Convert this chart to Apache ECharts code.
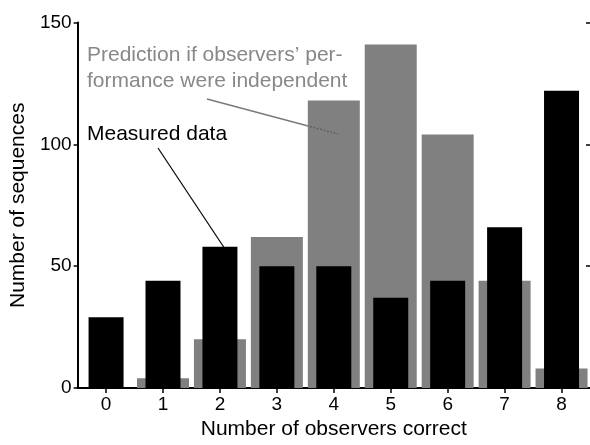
<!DOCTYPE html>
<html>
<head>
<meta charset="utf-8">
<script src="https://cdn.jsdelivr.net/npm/echarts@6/dist/echarts.min.js"></script>
<style>
html,body{margin:0;padding:0;background:#fff;}
#chart{width:590px;height:445px;}
</style>
</head>
<body>
<div id="chart"></div>
<script>
var categories = ['0','1','2','3','4','5','6','7','8'];
var measured = [29, 44, 58, 50, 50, 37, 44, 66, 122];
var predicted = [0, 4, 20, 62, 118, 141, 104, 44, 8];
var yTicks = [0, 50, 100, 150];

var FONT = 'Liberation Sans, Arial, Helvetica, sans-serif';
var chart = echarts.init(document.getElementById('chart'), null, {renderer: 'canvas'});

var option = {
  animation: false,
  backgroundColor: '#fff',
  grid: {left: 77.5, top: 22.5, width: 516, height: 370, containLabel: false},
  xAxis: [
    {
      type: 'category', data: categories, position: 'bottom',
      name: 'Number of observers correct', nameLocation: 'middle', nameGap: 31,
      nameTextStyle: {fontFamily: FONT, fontSize: 21, color: '#000'},
      axisLine: {show: true, lineStyle: {color: '#000', width: 2}},
      axisTick: {show: false},
      axisLabel: {fontFamily: FONT, fontSize: 19, color: '#000', margin: 7},
      splitLine: {show: false}
    },
    {
      type: 'category', data: categories, position: 'top',
      axisLine: {show: true, lineStyle: {color: '#000', width: 2}},
      axisTick: {show: true, inside: true, alignWithLabel: true, length: 5, lineStyle: {color: '#000', width: 1.5}},
      axisLabel: {show: false},
      splitLine: {show: false}
    }
  ],
  yAxis: [
    {
      type: 'value', min: yTicks[0], max: yTicks[yTicks.length - 1], interval: 50, position: 'left',
      name: 'Number of sequences', nameLocation: 'middle', nameGap: 47,
      nameTextStyle: {fontFamily: FONT, fontSize: 21, color: '#000'},
      axisLine: {show: true, lineStyle: {color: '#000', width: 2}},
      axisTick: {show: true, inside: false, length: 4, lineStyle: {color: '#000', width: 1.5}},
      axisLabel: {fontFamily: FONT, fontSize: 19, color: '#000', margin: 6},
      splitLine: {show: false}
    },
    {
      type: 'value', min: yTicks[0], max: yTicks[yTicks.length - 1], interval: 50, position: 'right',
      axisLine: {show: false},
      axisTick: {show: true, inside: true, length: 4, lineStyle: {color: '#000', width: 1.5}},
      axisLabel: {show: false},
      splitLine: {show: false}
    }
  ],
  series: [
    {
      name: 'Prediction', type: 'bar', xAxisIndex: 1, yAxisIndex: 0,
      data: predicted, barWidth: 52, z: 2,
      itemStyle: {color: '#808080'}
    },
    {
      name: 'Measured', type: 'bar', xAxisIndex: 0, yAxisIndex: 0,
      data: measured, barWidth: 35, z: 3,
      itemStyle: {color: '#000'}
    }
  ],
  graphic: [
    {type: 'text', left: 87, top: 45, z: 10, style: {text: 'Prediction if observers\u2019 per-', font: '21px ' + FONT, fill: '#888888'}},
    {type: 'text', left: 87, top: 70.5, z: 10, style: {text: 'formance were independent', font: '21px ' + FONT, fill: '#888888'}},
    {type: 'text', left: 87, top: 123.5, z: 10, style: {text: 'Measured data', font: '21px ' + FONT, fill: '#000'}},
    {type: 'line', z: 10, shape: {x1: 207, y1: 99, x2: 310, y2: 126.5}, style: {stroke: '#7a7a7a', lineWidth: 1.3}},
    {type: 'line', z: 10, shape: {x1: 310, y1: 126.5, x2: 338, y2: 134}, style: {stroke: '#5e5e5e', lineWidth: 1.3, lineDash: [2, 1.5]}},
    {type: 'line', z: 10, shape: {x1: 158, y1: 148, x2: 225, y2: 249}, style: {stroke: '#000', lineWidth: 1.2}}
  ]
};
chart.setOption(option);
</script>
</body>
</html>
